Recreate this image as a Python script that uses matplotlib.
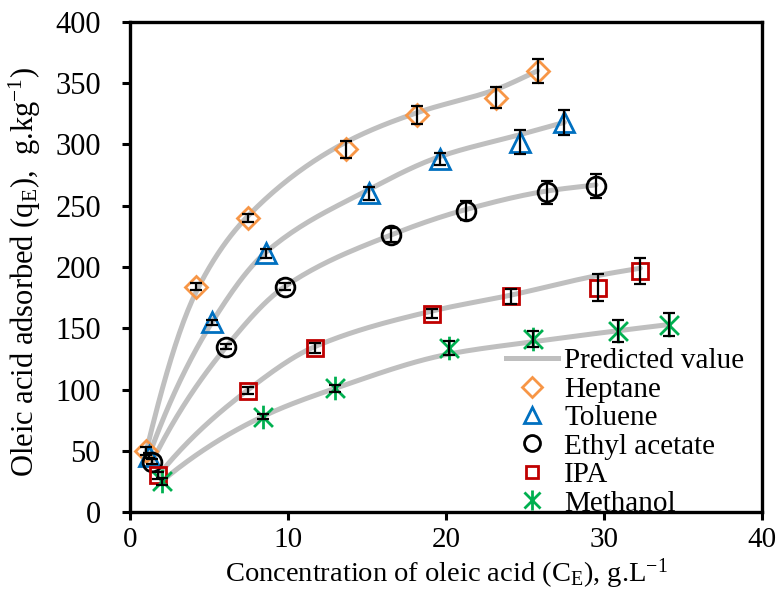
import numpy as np
import matplotlib
matplotlib.use("Agg")
import matplotlib.pyplot as plt
from matplotlib.lines import Line2D
from matplotlib.path import Path

plt.rcParams['font.family'] = ['Liberation Serif', 'DejaVu Serif']
plt.rcParams['mathtext.fontset'] = 'custom'
plt.rcParams['mathtext.rm'] = 'Liberation Serif'
plt.rcParams['mathtext.it'] = 'Liberation Serif:italic'

# measured data: Ce (g/L), qe (g/kg), error, predicted qe
hep_x = [1.0, 4.2, 7.5, 13.7, 18.2, 23.2, 25.8]
hep_y = [50, 184, 240, 296, 324, 338, 360]
hep_err = [3, 3, 3, 7, 7, 8.5, 9.5]
hep_pred = [48, 180, 242, 302, 326, 345, 360]

tol_x = [1.2, 5.2, 8.6, 15.1, 19.6, 24.7, 27.5]
tol_y = [46, 155, 211, 260, 288, 302, 318]
tol_err = [2, 2, 4, 5, 5, 10, 10]
tol_pred = [46, 155, 212, 263, 290, 308, 318]

ea_x = [1.4, 6.1, 9.8, 16.5, 21.3, 26.4, 29.5]
ea_y = [41, 135, 184, 226, 246, 261, 266]
ea_err = [2, 2, 3, 6, 8, 9.5, 10]
ea_pred = [41, 135, 184, 226, 247, 262, 267]

ipa_x = [1.8, 7.5, 11.7, 19.1, 24.1, 29.6, 32.3]
ipa_y = [30, 99, 134, 162, 176, 183, 197]
ipa_err = [3, 3, 4, 4, 6, 11, 10.5]
ipa_pred = [30, 100, 135, 164, 177, 193, 199]

met_x = [2.0, 8.4, 13.0, 20.2, 25.5, 30.9, 34.1]
met_y = [25, 78, 101, 134, 141, 148, 153]
met_err = [3, 2, 3, 6, 6.5, 9, 9.5]
met_pred = [25, 78, 101, 129, 139, 148, 153]


def smooth(x, y, n=25):
    # monotone cubic (pchip) drawn through the predicted points
    x = np.asarray(x, float)
    y = np.asarray(y, float)
    h = np.diff(x)
    d = np.diff(y) / h
    m = np.zeros_like(y)
    for k in range(1, len(x) - 1):
        if d[k - 1] * d[k] > 0:
            w1 = 2 * h[k] + h[k - 1]
            w2 = h[k] + 2 * h[k - 1]
            m[k] = (w1 + w2) / (w1 / d[k - 1] + w2 / d[k])
    m[0] = d[0] * 1.3
    m[-1] = d[-1]
    xs, ys = [], []
    t = np.linspace(0, 1, n)
    for k in range(len(x) - 1):
        h00 = 2 * t**3 - 3 * t**2 + 1
        h10 = t**3 - 2 * t**2 + t
        h01 = -2 * t**3 + 3 * t**2
        h11 = t**3 - t**2
        xs.extend(x[k] + t * h[k])
        ys.extend(h00 * y[k] + h10 * h[k] * m[k] + h01 * y[k + 1] + h11 * h[k] * m[k + 1])
    return xs, ys


star = Path([(0, -1), (0, 1), (-0.8, -0.8), (0.8, 0.8), (-0.8, 0.8), (0.8, -0.8)],
            [Path.MOVETO, Path.LINETO, Path.MOVETO, Path.LINETO, Path.MOVETO, Path.LINETO])

series = [
    ("Heptane", hep_x, hep_y, hep_err, hep_pred, 'D', '#F79646', 11.5),
    ("Toluene", tol_x, tol_y, tol_err, tol_pred, '^', '#0070C0', 14),
    ("Ethyl acetate", ea_x, ea_y, ea_err, ea_pred, 'o', 'black', 13.5),
    ("IPA", ipa_x, ipa_y, ipa_err, ipa_pred, 's', '#C00000', 11),
    ("Methanol", met_x, met_y, met_err, met_pred, star, '#00B050', 17),
]

fig = plt.figure(figsize=(7.83, 5.9), dpi=100)
ax = fig.add_axes([0.166, 0.132, 0.807, 0.831])

gray = '#BFBFBF'
for name, x, y, e, p, m, c, ms in series:
    sx, sy = smooth(x, p)
    ax.plot(sx, sy, color=gray, lw=3.6, zorder=1, solid_capstyle='round')
for name, x, y, e, p, m, c, ms in series:
    ax.plot(x, y, linestyle='none', marker=m, markersize=ms, markerfacecolor='none',
            markeredgecolor=c, markeredgewidth=2.0, zorder=3)
    ax.errorbar(x, y, yerr=e, fmt='none', ecolor='black', elinewidth=1.6,
                capsize=4.5, capthick=1.6, zorder=4)

ax.set_xlim(0, 40)
ax.set_ylim(0, 400)
ax.set_xticks(range(0, 41, 10))
ax.set_yticks(range(0, 401, 50))
ax.tick_params(direction='out', length=6, width=2.2, labelsize=22)
ax.tick_params(axis='y', pad=15)
ax.tick_params(axis='x', pad=5, labelsize=21)
for s in ax.spines.values():
    s.set_linewidth(2.4)

ax.set_xlabel(r"Concentration of oleic acid (C$_\mathrm{E}$), g.L$^{\mathrm{-1}}$", fontsize=20.5)
ax.xaxis.set_label_coords(0.5, -0.09)
ax.set_ylabel(r"Oleic acid adsorbed (q$_\mathrm{E}$),  g.kg$^{\mathrm{-1}}$)", fontsize=22)
ax.yaxis.set_label_coords(-0.138, 0.49)

handles = [Line2D([], [], color=gray, lw=3.6)]
labels = ["Predicted value"]
for name, x, y, e, p, m, c, ms in series:
    handles.append(Line2D([], [], linestyle='none', marker=m, markersize=ms * 0.85,
                          markerfacecolor='none', markeredgecolor=c, markeredgewidth=2.0))
    labels.append(name)
ax.legend(handles, labels, loc='upper left', bbox_to_anchor=(0.595, 0.335), frameon=False,
          fontsize=21, handlelength=1.8, handletextpad=0.2, labelspacing=0.07,
          borderpad=0, borderaxespad=0)

fig.savefig("out.png", dpi=100)
